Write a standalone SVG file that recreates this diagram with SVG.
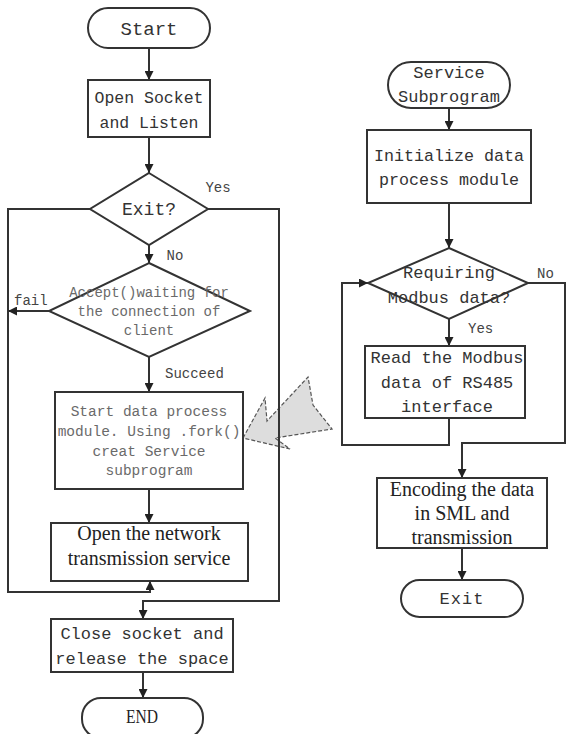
<svg xmlns="http://www.w3.org/2000/svg" width="566" height="734" viewBox="0 0 566 734">
<defs>
<marker id="ah" viewBox="0 0 10 10" refX="10" refY="5" markerWidth="9" markerHeight="9" markerUnits="userSpaceOnUse" orient="auto">
<path d="M0,0 L10,5 L0,10 z" fill="#222"/>
</marker>
<style>
.sh{fill:#fff;stroke:#333;stroke-width:2}
.ln{fill:none;stroke:#333;stroke-width:2}
.ar{fill:none;stroke:#333;stroke-width:2;marker-end:url(#ah)}
.m{font-family:"Liberation Mono","DejaVu Sans Mono",monospace;fill:#333;text-anchor:middle}
.s{font-family:"Liberation Serif","Times New Roman",serif;fill:#222;text-anchor:middle}
.g{fill:#6a6a6a}
.lb{font-family:"Liberation Mono","DejaVu Sans Mono",monospace;fill:#444;font-size:14px}
</style>
</defs>
<rect width="566" height="734" fill="#fff"/>

<g id="fork-arrow">
<polygon points="243,438 265,398 267,421 308,377 313,405 332,429 275,438 290,449" fill="#ddd" stroke="#555" stroke-width="1.2" stroke-dasharray="4,2"/>
</g>

<g id="connectors">
<line class="ar" x1="149" y1="48" x2="149" y2="80"/>
<line class="ar" x1="149" y1="137" x2="149" y2="173"/>
<polyline class="ar" points="90,209 8,209 8,592 150,592 150,581"/>
<polyline class="ar" points="208,209 279,209 279,601 143,601 143,619"/>
<line class="ar" x1="149" y1="245" x2="149" y2="263"/>
<line class="ar" x1="49" y1="311" x2="8" y2="311"/>
<line class="ar" x1="149" y1="357" x2="149" y2="392"/>
<line class="ar" x1="149" y1="489" x2="149" y2="523"/>
<line class="ar" x1="143" y1="672" x2="143" y2="698"/>
<line class="ar" x1="449" y1="108" x2="449" y2="130"/>
<line class="ar" x1="449" y1="203" x2="449" y2="248"/>
<line class="ar" x1="449" y1="319" x2="449" y2="346"/>
<polyline class="ar" points="449,418 449,445 342,445 342,283 368,283"/>
<polyline class="ar" points="528,283 565,283 565,443 462,443 462,478"/>
<line class="ar" x1="462" y1="548" x2="462" y2="580"/>
<text class="lb" x="218" y="192" text-anchor="middle">Yes</text>
<text class="lb" x="175" y="260" text-anchor="middle">No</text>
<text class="lb" x="14" y="305">fail</text>
<text class="lb" x="165" y="378">Succeed</text>
<text class="lb" x="537" y="278">No</text>
<text class="lb" x="468" y="333">Yes</text>
</g>

<g id="start">
<rect class="sh" x="88" y="8" width="122" height="40" rx="20"/>
<text class="m" x="149" y="35" font-size="19">Start</text>
</g>

<g id="open-socket">
<rect class="sh" x="88" y="80" width="122" height="57"/>
<text class="m" x="149" y="103" font-size="16.5">Open Socket</text>
<text class="m" x="149" y="128" font-size="16.5">and Listen</text>
</g>

<g id="exit-decision">
<polygon class="sh" points="149,173 208,209 149,245 90,209"/>
<text class="m" x="149" y="215" font-size="18">Exit?</text>
</g>

<g id="accept">
<polygon class="sh" points="149,263 250,311 149,357 49,311"/>
<text class="m g" x="149" y="297" font-size="14">Accept()waiting for</text>
<text class="m g" x="149" y="316" font-size="14">the connection of</text>
<text class="m g" x="149" y="335" font-size="14">client</text>
</g>

<g id="start-data">
<rect class="sh" x="55" y="392" width="188" height="97"/>
<text class="m g" x="149" y="416" font-size="14.5">Start data process</text>
<text class="m g" x="149" y="436" font-size="14.5">module. Using .fork()</text>
<text class="m g" x="149" y="456" font-size="14.5">creat Service</text>
<text class="m g" x="149" y="475" font-size="14.5">subprogram</text>
</g>

<g id="open-network">
<rect class="sh" x="51" y="523" width="197" height="58"/>
<text class="s" x="149" y="540" font-size="20">Open the network</text>
<text class="s" x="149" y="565" font-size="20">transmission service</text>
</g>

<g id="close-socket">
<rect class="sh" x="51" y="619" width="182" height="53"/>
<text class="m" x="142" y="639" font-size="17">Close socket and</text>
<text class="m" x="142" y="664" font-size="17">release the space</text>
</g>

<g id="end">
<rect class="sh" x="82" y="698" width="121" height="40" rx="19"/>
<text class="s" x="142" y="723" font-size="19" textLength="32" lengthAdjust="spacingAndGlyphs">END</text>
</g>

<g id="service">
<rect class="sh" x="388" y="62" width="122" height="46" rx="23"/>
<text class="m" x="449" y="78" font-size="17">Service</text>
<text class="m" x="449" y="102" font-size="17">Subprogram</text>
</g>

<g id="initialize">
<rect class="sh" x="367" y="130" width="164" height="73"/>
<text class="m" x="449" y="161" font-size="16.7">Initialize data</text>
<text class="m" x="449" y="185" font-size="16.7">process module</text>
</g>

<g id="requiring">
<polygon class="sh" points="449,248 528,283 449,319 368,283"/>
<text class="m" x="449" y="278" font-size="17">Requiring</text>
<text class="m" x="449" y="303" font-size="17">Modbus data?</text>
</g>

<g id="read-modbus">
<rect class="sh" x="365" y="346" width="160" height="72"/>
<text class="m" x="447" y="363" font-size="17">Read the Modbus</text>
<text class="m" x="447" y="388" font-size="17">data of RS485</text>
<text class="m" x="447" y="412" font-size="17">interface</text>
</g>

<g id="encoding">
<rect class="sh" x="377" y="478" width="170" height="70"/>
<text class="s" x="462" y="496" font-size="20">Encoding the data</text>
<text class="s" x="462" y="520" font-size="20">in SML and</text>
<text class="s" x="462" y="544" font-size="20">transmission</text>
</g>

<g id="exit-end">
<rect class="sh" x="401" y="580" width="122" height="37" rx="18.5"/>
<text class="m" x="462" y="604" font-size="17" letter-spacing="1">Exit</text>
</g>
</svg>
